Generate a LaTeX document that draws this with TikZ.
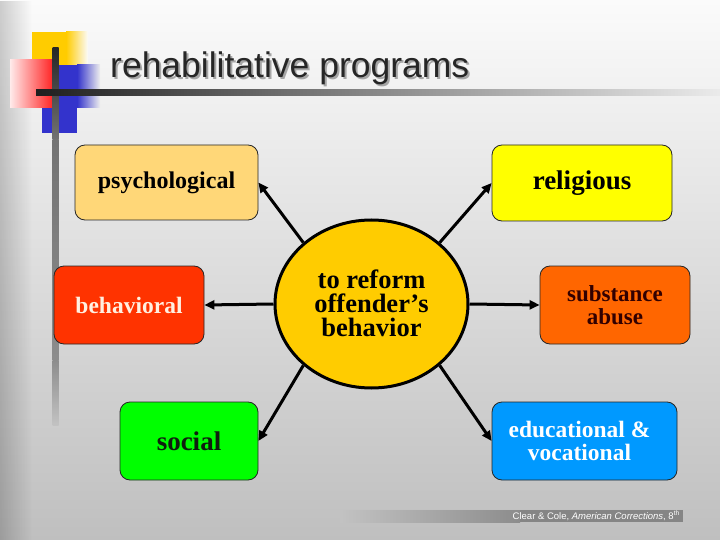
\documentclass[tikz,border=0pt]{standalone}
\usepackage{fontspec}
\setmainfont{Liberation Serif}
\newfontfamily\sansf{Liberation Sans}
\usetikzlibrary{shapes.geometric,arrows.meta,fadings}
\tikzfading[name=myfaderight, left color=transparent!0, right color=transparent!100]
\definecolor{bgtop}{HTML}{FBFBFB}
\definecolor{bgbot}{HTML}{BFBFBF}
\definecolor{cpsy}{HTML}{FFD778}
\definecolor{crel}{HTML}{FFFF00}
\definecolor{cbeh}{HTML}{FF3300}
\definecolor{csub}{HTML}{FF6600}
\definecolor{csoc}{HTML}{00FF00}
\definecolor{cedu}{HTML}{0099FF}
\definecolor{cell}{HTML}{FFCC00}
\definecolor{logoy}{HTML}{FFCC00}
\definecolor{logor}{HTML}{FF1A1A}
\definecolor{logob}{HTML}{3333CC}
\begin{document}
\begin{tikzpicture}[x=1pt,y=-1pt,
  box/.style={draw=black!85, line width=0.8pt, rounded corners=10pt, inner sep=0pt, align=center, font=\bfseries},
  arr/.style={line width=3pt, -{Triangle[length=10pt,width=9pt]}},
  capt/.style={font=\bfseries\fontsize{26.5}{24}\selectfont, align=center, inner sep=0pt}]
\useasboundingbox (0,0) rectangle (720,540);
% background
\shade[top color=bgtop, bottom color=bgbot] (0,0) rectangle (720,540);
\fill[black, opacity=0.18, path fading=myfaderight] (0,0) rectangle (32,540);
% logo
\fill[logoy] (32,32) rectangle (66,88);
\shade[left color=logoy, right color=bgtop] (66,32) rectangle (88,88);
\fill[logob] (42,65) rectangle (77,133);
\shade[left color=logob, right color=bgtop!95!black] (77,65) rectangle (100,108);
\shade[left color=red!8, right color=logor] (10,60) rectangle (55,108);
\shade[top color=black!85, bottom color=black!55] (52.5,48) rectangle (58.5,140);
\shade[top color=black!55, bottom color=black!45] (52.5,140) rectangle (58.5,360);
\shade[top color=black!45, bottom color=bgbot!95!white] (52.5,360) rectangle (58.5,425);
\shade[left color=black!88, right color=black!55] (36,90) rectangle (300,96);
\shade[left color=black!55, right color=black!8] (300,90) rectangle (720,96);
% title
\node[anchor=base west, inner sep=0pt, text=black!35, font=\sansf\fontsize{35.5}{40}\selectfont] at (112,80) {rehabilitative programs};
\node[anchor=base west, inner sep=0pt, text=black!85, font=\sansf\fontsize{35.5}{40}\selectfont] (title) at (110,78) {rehabilitative programs};
% boxes
\node[box, fill=cpsy, minimum width=183pt, minimum height=75pt, font=\bfseries\fontsize{24}{24}\selectfont] (psy) at (166.5,182.5) {psychological};
\node[box, fill=crel, minimum width=180pt, minimum height=76pt, font=\bfseries\fontsize{27}{24}\selectfont] (rel) at (582,183) {religious};
\node[box, fill=cbeh, minimum width=150pt, minimum height=78pt, text={rgb,255:red,255;green,240;blue,225}, font=\bfseries\fontsize{23.5}{24}\selectfont] (beh) at (129,305) {behavioral};
\node[box, fill=csub, minimum width=150pt, minimum height=78pt, text={rgb,255:red,50;green,0;blue,0}, font=\bfseries\fontsize{23}{23}\selectfont] (sub) at (615,305) {substance\\abuse};
\node[box, fill=csoc, minimum width=138pt, minimum height=78pt, text={rgb,255:red,15;green,30;blue,15}, font=\bfseries\fontsize{27}{24}\selectfont] (soc) at (189,441) {social};
\node[draw=black!85, line width=0.8pt, rounded corners=10pt, inner sep=0pt, fill=cedu, minimum width=185pt, minimum height=78pt, text=white, font=\bfseries\fontsize{23.5}{21}\selectfont] (edu) at (584.5,441) {\hspace*{-10pt}\raisebox{-3pt}[\height][\depth]{\begin{tabular}{@{}c@{}}educational \&\\vocational\end{tabular}}};
% centre
\node[ellipse, draw=black, line width=3pt, fill=cell, minimum width=193pt, minimum height=168pt, inner sep=0pt] (c) at (371.5,304) {};
\node[capt] (ct) at (371.5,303) {to reform\\offender’s\\behavior};
% arrows
\draw[arr] (c.138) -- (psy.east);
\draw[arr] (c.42) -- (rel.west);
\draw[arr] (c.west) -- (beh.east);
\draw[arr] (c.east) -- (sub.west);
\draw[arr] (c.222) -- (soc.east);
\draw[arr] (c.318) -- (edu.west);
% footer
\shade[left color=bgbot!95!white, right color=black!45] (340,510) rectangle (520,522);
\fill[black!48] (520,510) rectangle (683,522);
\node[anchor=base east, inner sep=0pt, text=white, font=\sansf\fontsize{9.5}{10}\selectfont] (foot) at (680,519.5) {Clear \& Cole, \textit{American Corrections}, 8\textsuperscript{th}};
\end{tikzpicture}
\end{document}
